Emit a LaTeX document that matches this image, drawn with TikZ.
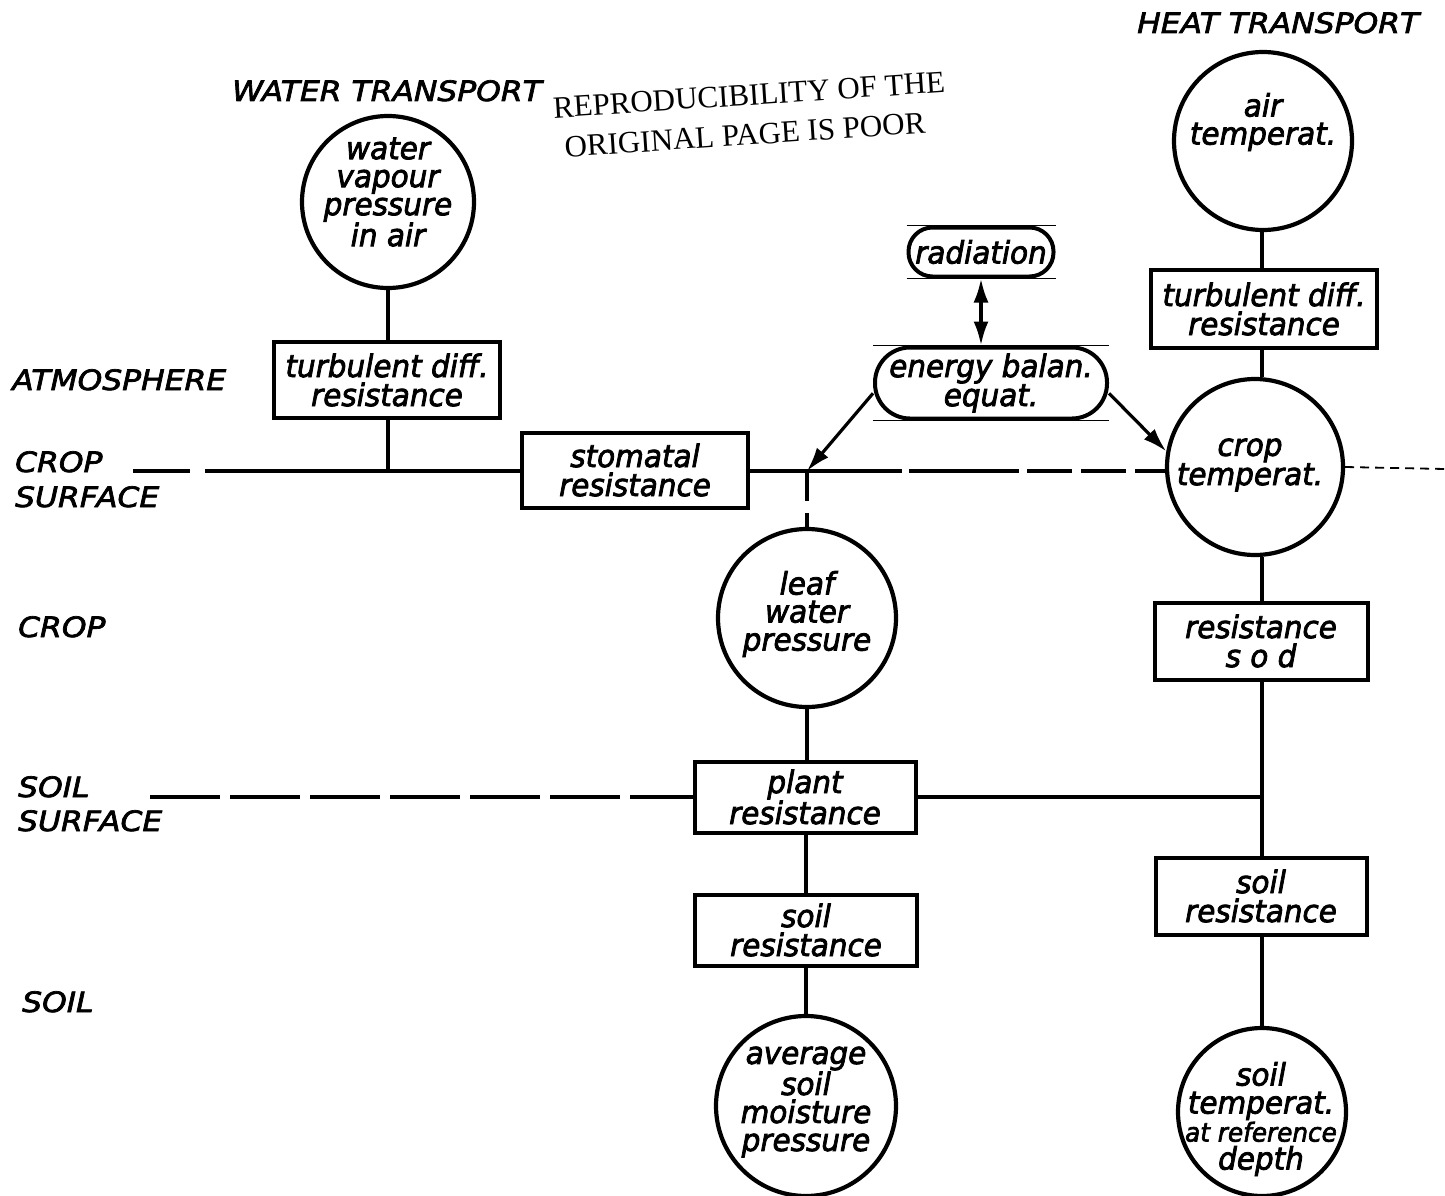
\documentclass[tikz,border=0pt]{standalone}
\usepackage{fontspec}
\setmainfont{DejaVu Sans}
\newfontfamily\labfont[FakeStretch=1.12, FakeBold=2.5]{DejaVu Sans}
\newfontfamily\txtfont[FakeStretch=0.95, FakeBold=2.5]{DejaVu Sans}
\newfontfamily\stampfont{Liberation Serif}
\usetikzlibrary{arrows.meta}
\tikzset{
  lab/.style={font=\labfont\itshape\fontsize{28}{28}\selectfont, anchor=base west, inner sep=0pt},
  box/.style={draw, line width=4pt, inner sep=0pt, align=center, font=\txtfont\itshape\fontsize{31}{29}\selectfont},
  rbox/.style={box, rounded corners=#1},
  circ/.style={draw, circle, line width=4.2pt, inner sep=0pt, minimum size=#1},
  ctext/.style={align=center, inner sep=0pt, font=\txtfont\itshape\fontsize{31}{28}\selectfont},
  conn/.style={line width=3.2pt},
  thinl/.style={line width=1.8pt},
  arr/.style={line width=3.2pt, -{Latex[length=24pt,width=15pt]}},
  darr/.style={line width=3.5pt, {Latex[length=24pt,width=15pt]}-{Latex[length=24pt,width=15pt]}},
  stamp/.style={font=\stampfont\fontsize{31}{31}\selectfont, inner sep=0pt, rotate=3.8},
}
\begin{document}
\begin{tikzpicture}[x=1pt,y=-1pt]
\useasboundingbox[fill=white] (0,0) rectangle (1445,1196);

% headings
\node[lab] (hw) at (232,101) {WATER TRANSPORT};
\node[lab] (hh) at (1137,33) {HEAT TRANSPORT};
\node[stamp] (st1) at (749,95) {REPRODUCIBILITY OF THE};
\node[stamp] (st2) at (745,135) {ORIGINAL PAGE IS POOR};

% left labels
\node[lab] (l1) at (12,390) {ATMOSPHERE};
\node[lab] (l2a) at (15,472) {CROP};
\node[lab] (l2b) at (15,507) {SURFACE};
\node[lab] (l3) at (18,637) {CROP};
\node[lab] (l4a) at (18,797) {SOIL};
\node[lab] (l4b) at (18,831) {SURFACE};
\node[lab] (l5) at (22,1012) {SOIL};

% water column
\node[circ=172] (wv) at (388,202) {};
\node[ctext] (wvT) at (388,192) {water\\vapour\\pressure\\in air};
\node[box, minimum width=226, minimum height=76] (tdw) at (387,380) {turbulent diff.\\resistance};
\node[box, minimum width=226, minimum height=75] (stom) at (635,470) {stomatal\\resistance};

% energy
\node[rbox=24pt, minimum width=145, minimum height=49] (rad) at (981,252) {radiation};
\node[rbox=35pt, minimum width=232, minimum height=71] (en) at (991,383) {energy balan.\\equat.};

% heat column
\node[circ=178] (air) at (1263,141) {};
\node[ctext] (airT) at (1263,122) {air\\temperat.};
\node[box, minimum width=226, minimum height=78] (tdh) at (1264,309) {turbulent diff.\\resistance};
\node[circ=176] (crop) at (1255,467) {};
\node[ctext] (cropT) at (1250,465) {crop\\temperat.};
\node[box, minimum width=213, minimum height=77] (sod) at (1261,641) {resistance\\s o d};
\node[box, minimum width=211, minimum height=77] (soilR) at (1261,896) {soil\\resistance};
\node[circ=168] (stc) at (1262,1112) {};
\node[ctext] (stcT) at (1261,1119) {soil\\temperat.\\{\fontsize{26}{28}\selectfont at reference}\\depth};

% leaf column
\node[circ=178] (leaf) at (807,618) {};
\node[ctext] (leafT) at (807,614) {leaf\\water\\pressure};
\node[box, minimum width=221, minimum height=71] (plant) at (805,797) {plant\\resistance};
\node[box, minimum width=222, minimum height=71] (soilL) at (806,930) {soil\\resistance};
\node[circ=180] (avg) at (806,1106) {};
\node[ctext] (avgT) at (806,1102) {average\\soil\\moisture\\pressure};

% coordinates
\coordinate (W) at (388,471);
\coordinate (csL) at (133,471);
\coordinate (J) at (807,471);
\coordinate (cR) at (1445,469);
\coordinate (ssL) at (150,797);
\coordinate (K) at (1262,797);

% connectors water
\draw[conn] (wv.south) -- (tdw.north -| wv.south);
\draw[conn] (tdw.south -| W) -- (W);
\draw[conn, dash pattern=on 57pt off 15pt on 600pt] (csL) -- (stom.west |- csL);
\draw[conn] (stom.east |- J) -- (J);
\draw[conn, dash pattern=on 95pt off 7pt on 110pt off 8pt on 45pt off 9pt on 45pt off 9pt] (J) -- (crop.west |- J);
\draw[thinl, dash pattern=on 9pt off 6pt] (crop.east) -- (cR);
\draw[conn, dash pattern=on 30pt off 12pt] (J) -- (J |- leaf.north);

% energy arrows
\draw[darr] (rad.south) -- (en.north -| rad.south);
\draw[arr] (en.185) -- (J);
\draw[arr] (en.-5) -- (crop.170);
\draw[thinl] (en.north west) -- (en.north east);
\draw[thinl] (en.south west) -- (en.south east);
\draw[thinl] (rad.north west) -- (rad.north east);
\draw[thinl] (rad.south west) -- (rad.south east);

% heat connectors
\draw[conn] (air.south -| K) -- (tdh.north -| K);
\draw[conn] (tdh.south -| K) -- (crop.north -| K);
\draw[conn] (crop.south -| K) -- (sod.north -| K);
\draw[conn] (sod.south -| K) -- (soilR.north -| K);
\draw[conn] (soilR.south -| K) -- (stc.north -| K);

% leaf connectors
\draw[conn] (leaf.south) -- (plant.north -| leaf.south);
\draw[conn] (plant.south -| soilL.north) -- (soilL.north);
\draw[conn] (soilL.south) -- (avg.north);
\draw[conn, dash pattern=on 70pt off 10pt] (ssL) -- (plant.west);
\draw[conn] (plant.east) -- (K);
\end{tikzpicture}
\end{document}
